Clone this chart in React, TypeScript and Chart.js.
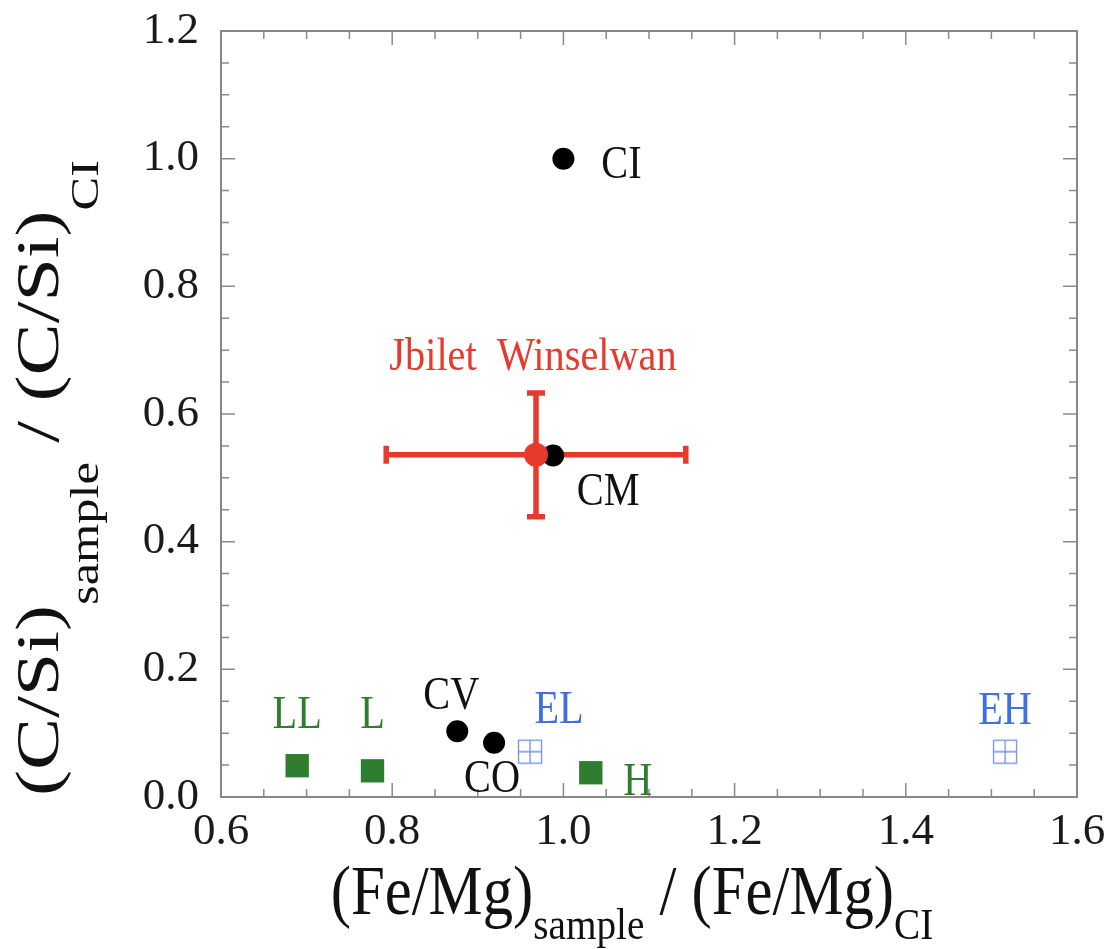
import React, { useEffect, useRef } from 'react';
import { Chart, registerables } from 'chart.js';
Chart.register(...registerables);

// ---- data ----
const carbNames = ['CI', 'CM', 'CV', 'CO'];
const carbX = [1.0, 0.988, 0.876, 0.919];
const carbY = [1.0, 0.535, 0.103, 0.085];

const ordNames = ['LL', 'L', 'H'];
const ordX = [0.689, 0.777, 1.032];
const ordY = [0.049, 0.041, 0.038];

const enstNames = ['EL', 'EH'];
const enstX = [0.961, 1.516];
const enstY = [0.071, 0.071];

const jwNames = ['Jbilet  Winselwan'];
const jwX = [0.968];
const jwY = [0.536];
const jwXErr = [0.175];
const jwYErr = [0.097];

const xTickValues = [0.6, 0.8, 1.0, 1.2, 1.4, 1.6];
const yTickValues = [0.0, 0.2, 0.4, 0.6, 0.8, 1.0, 1.2];

// ---- styles ----
const FONT = '"Liberation Serif", "Times New Roman", serif';
const RED = '#e63a2c';
const GREEN = '#2f7d2f';
const BLUE = '#3f6fe0';
const BLUE_MARK = '#6f93de';

const labelOffsets: Record<string, [number, number]> = {
  CI: [58, 7],
  CM: [55, 37],
  CV: [-6, -34],
  CO: [-2, 37],
  EL: [29, -41],
  EH: [0, -40],
  LL: [0, -50],
  L: [0, -55],
  H: [47, 10],
  'Jbilet  Winselwan': [-3, -97],
};

function makeEnstatiteMarker() {
  const c = document.createElement('canvas');
  const s = 26;
  c.width = s;
  c.height = s;
  const g = c.getContext('2d')!;
  g.strokeStyle = BLUE_MARK;
  g.lineWidth = 1.3;
  g.strokeRect(1.5, 1.5, s - 3, s - 3);
  g.beginPath();
  g.moveTo(s / 2, 1.5);
  g.lineTo(s / 2, s - 1.5);
  g.moveTo(1.5, s / 2);
  g.lineTo(s - 1.5, s / 2);
  g.stroke();
  return c;
}

type Part = { t: string; sub?: boolean };
const MAIN_SIZE = 62;
const SUB_SIZE = 40;

function partsWidth(ctx: CanvasRenderingContext2D, parts: Part[]) {
  let w = 0;
  for (const p of parts) {
    ctx.font = `${p.sub ? SUB_SIZE : MAIN_SIZE}px ${FONT}`;
    w += ctx.measureText(p.t).width;
  }
  return w;
}

function drawParts(ctx: CanvasRenderingContext2D, parts: Part[], x: number, y: number, subDrop: number) {
  let cx = x;
  ctx.textBaseline = 'alphabetic';
  ctx.textAlign = 'left';
  for (const p of parts) {
    ctx.font = `${p.sub ? SUB_SIZE : MAIN_SIZE}px ${FONT}`;
    ctx.fillText(p.t, cx, p.sub ? y + subDrop : y);
    cx += ctx.measureText(p.t).width;
  }
}

const xTitleParts: Part[] = [
  { t: '(Fe/Mg)' },
  { t: 'sample', sub: true },
  { t: ' / (Fe/Mg)' },
  { t: 'CI', sub: true },
];
const yTitleParts: Part[] = [
  { t: '(C/Si)' },
  { t: 'sample', sub: true },
  { t: ' / (C/Si)' },
  { t: 'CI', sub: true },
];

const framePlugin = {
  id: 'frameTicks',
  beforeDatasetsDraw(chart: any) {
    const { ctx, chartArea: a, scales } = chart;
    const xs = scales.x;
    const ys = scales.y;
    ctx.save();
    ctx.strokeStyle = '#8a8a8a';
    ctx.lineWidth = 1.5;
    const nx = Math.round((xs.max - xs.min) / 0.05);
    for (let i = 0; i <= nx; i++) {
      const v = xs.min + i * 0.05;
      const px = xs.getPixelForValue(v);
      const len = i % 4 === 0 ? 14 : 8;
      ctx.beginPath();
      ctx.moveTo(px, a.bottom);
      ctx.lineTo(px, a.bottom - len);
      ctx.moveTo(px, a.top);
      ctx.lineTo(px, a.top + len);
      ctx.stroke();
    }
    const ny = Math.round((ys.max - ys.min) / 0.05);
    for (let i = 0; i <= ny; i++) {
      const v = ys.min + i * 0.05;
      const py = ys.getPixelForValue(v);
      const len = i % 4 === 0 ? 14 : 8;
      ctx.beginPath();
      ctx.moveTo(a.left, py);
      ctx.lineTo(a.left + len, py);
      ctx.moveTo(a.right, py);
      ctx.lineTo(a.right - len, py);
      ctx.stroke();
    }
    ctx.lineWidth = 2;
    ctx.strokeStyle = '#888888';
    ctx.strokeRect(a.left, a.top, a.right - a.left, a.bottom - a.top);

    // error bars for Jbilet Winselwan
    ctx.strokeStyle = RED;
    ctx.lineWidth = 5.5;
    ctx.lineCap = 'butt';
    for (let i = 0; i < jwX.length; i++) {
      const cx = xs.getPixelForValue(jwX[i]);
      const cy = ys.getPixelForValue(jwY[i]);
      const x0 = xs.getPixelForValue(jwX[i] - jwXErr[i]);
      const x1 = xs.getPixelForValue(jwX[i] + jwXErr[i]);
      const y0 = ys.getPixelForValue(jwY[i] + jwYErr[i]);
      const y1 = ys.getPixelForValue(jwY[i] - jwYErr[i]);
      const cap = 9;
      ctx.beginPath();
      ctx.moveTo(x0, cy);
      ctx.lineTo(x1, cy);
      ctx.moveTo(x0, cy - cap);
      ctx.lineTo(x0, cy + cap);
      ctx.moveTo(x1, cy - cap);
      ctx.lineTo(x1, cy + cap);
      ctx.moveTo(cx, y0);
      ctx.lineTo(cx, y1);
      ctx.moveTo(cx - cap, y0);
      ctx.lineTo(cx + cap, y0);
      ctx.moveTo(cx - cap, y1);
      ctx.lineTo(cx + cap, y1);
      ctx.stroke();
    }
    ctx.restore();
  },
  afterDatasetsDraw(chart: any) {
    const { ctx, scales } = chart;
    const xs = scales.x;
    const ys = scales.y;
    ctx.save();
    ctx.textAlign = 'center';
    ctx.textBaseline = 'middle';
    const groups: [string[], number[], number[], string, number][] = [
      [carbNames, carbX, carbY, '#111111', 42],
      [ordNames, ordX, ordY, GREEN, 42],
      [enstNames, enstX, enstY, BLUE, 42],
      [jwNames, jwX, jwY, RED, 42],
    ];
    for (const [names, xv, yv, color, size] of groups) {
      ctx.fillStyle = color;
      ctx.font = `${size}px ${FONT}`;
      names.forEach((n, i) => {
        const [dx, dy] = labelOffsets[n] || [0, 0];
        const px = xs.getPixelForValue(xv[i]) + dx;
        const py = ys.getPixelForValue(yv[i]) + dy;
        ctx.save();
        ctx.translate(px, py);
        ctx.scale(0.96, 1.1);
        ctx.fillText(n, 0, 0);
        ctx.restore();
      });
    }
    ctx.restore();
  },
  afterDraw(chart: any) {
    const { ctx } = chart;
    ctx.fillStyle = '#111111';
    // x title
    ctx.save();
    const wx = partsWidth(ctx, xTitleParts);
    ctx.translate(632, 914);
    ctx.scale(0.98, 1.12);
    drawParts(ctx, xTitleParts, -wx / 2, 0, 22);
    ctx.restore();
    // y title (rotated, stretched along text direction)
    ctx.save();
    const wy = partsWidth(ctx, yTitleParts);
    ctx.translate(58, 478);
    ctx.rotate(-Math.PI / 2);
    ctx.scale(1.26, 1.0);
    drawParts(ctx, yTitleParts, -wy / 2, 0, 40);
    ctx.restore();
  },
};

export default function App() {
  const ref = useRef<HTMLCanvasElement | null>(null);
  useEffect(() => {
    document.body.style.margin = '0';
    const canvas = ref.current!;
    const enstMarker = makeEnstatiteMarker();
    const chart = new Chart(canvas, {
      type: 'scatter',
      data: {
        datasets: [
          {
            label: 'Ordinary',
            data: ordX.map((x, i) => ({ x, y: ordY[i] })),
            pointStyle: 'rect',
            pointRadius: 16.5,
            backgroundColor: GREEN,
            borderColor: GREEN,
            borderWidth: 0,
            order: 4,
          },
          {
            label: 'Enstatite',
            data: enstX.map((x, i) => ({ x, y: enstY[i] })),
            pointStyle: enstMarker as any,
            pointRadius: 13,
            order: 3,
          },
          {
            label: 'Carbonaceous',
            data: carbX.map((x, i) => ({ x, y: carbY[i] })),
            pointStyle: 'circle',
            pointRadius: 11,
            backgroundColor: '#000000',
            borderColor: '#000000',
            borderWidth: 0,
            order: 2,
          },
          {
            label: 'Jbilet Winselwan',
            data: jwX.map((x, i) => ({ x, y: jwY[i] })),
            pointStyle: 'circle',
            pointRadius: 12,
            backgroundColor: RED,
            borderColor: RED,
            borderWidth: 0,
            order: 1,
          },
        ],
      },
      options: {
        responsive: false,
        maintainAspectRatio: false,
        animation: false,
        layout: { padding: { top: 31, right: 32, left: 0, bottom: 0 } },
        plugins: {
          legend: { display: false },
          tooltip: { enabled: false },
        },
        scales: {
          x: {
            type: 'linear',
            min: 0.6,
            max: 1.6,
            afterBuildTicks: (s: any) => {
              s.ticks = xTickValues.map((v) => ({ value: v }));
            },
            afterFit: (s: any) => {
              s.height = 152;
              s.paddingLeft = 0;
              s.paddingRight = 0;
            },
            ticks: {
              font: { family: FONT, size: 45 },
              color: '#1a1a1a',
              padding: 8,
              maxRotation: 0,
              callback: (v: any) => Number(v).toFixed(1),
            },
            grid: { display: false, drawTicks: false },
            border: { display: false },
          },
          y: {
            type: 'linear',
            min: 0,
            max: 1.2,
            afterBuildTicks: (s: any) => {
              s.ticks = yTickValues.map((v) => ({ value: v }));
            },
            afterFit: (s: any) => {
              s.width = 221;
              s.paddingTop = 0;
              s.paddingBottom = 0;
            },
            ticks: {
              font: { family: FONT, size: 45 },
              color: '#1a1a1a',
              padding: 22,
              callback: (v: any) => Number(v).toFixed(1),
            },
            grid: { display: false, drawTicks: false },
            border: { display: false },
          },
        },
      },
      plugins: [framePlugin],
    });
    return () => chart.destroy();
  }, []);
  return <canvas ref={ref} width={1109} height={949} style={{ display: 'block', width: 1109, height: 949 }} />;
}
